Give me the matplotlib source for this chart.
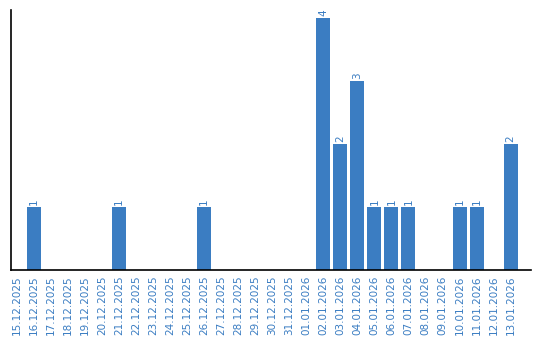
import matplotlib
matplotlib.use("Agg")
import matplotlib.pyplot as plt

dates = ["15.12.2025", "16.12.2025", "17.12.2025", "18.12.2025", "19.12.2025",
         "20.12.2025", "21.12.2025", "22.12.2025", "23.12.2025", "24.12.2025",
         "25.12.2025", "26.12.2025", "27.12.2025", "28.12.2025", "29.12.2025",
         "30.12.2025", "31.12.2025", "01.01.2026", "02.01.2026", "03.01.2026",
         "04.01.2026", "05.01.2026", "06.01.2026", "07.01.2026", "08.01.2026",
         "09.01.2026", "10.01.2026", "11.01.2026", "12.01.2026", "13.01.2026"]
counts = [0, 1, 0, 0, 0, 0, 1, 0, 0, 0,
          0, 1, 0, 0, 0, 0, 0, 0, 4, 2,
          3, 1, 1, 1, 0, 0, 1, 1, 0, 2]

blue = "#3b7dc2"

fig = plt.figure(figsize=(5.4, 3.4), dpi=100)
ax = fig.add_axes([0.0204, 0.206, 0.963, 0.764])

x = list(range(len(dates)))
ax.bar(x, counts, width=0.82, color=blue)
for xi, c in zip(x, counts):
    if c > 0:
        ax.text(xi, c + 0.04, str(c), rotation=90, ha="center", va="bottom",
                fontsize=7.5, color=blue)

ax.set_xlim(-0.35, 30.2)
ax.set_ylim(0, 4.13)
ax.set_xticks(x)
ax.set_xticklabels(dates, rotation=90, fontsize=7.5, color=blue)
ax.tick_params(axis="x", length=0, pad=4)
ax.set_yticks([])
ax.spines["top"].set_visible(False)
ax.spines["right"].set_visible(False)
ax.spines["left"].set_linewidth(1.2)
ax.spines["bottom"].set_linewidth(1.2)

fig.savefig("out.png", dpi=100)
